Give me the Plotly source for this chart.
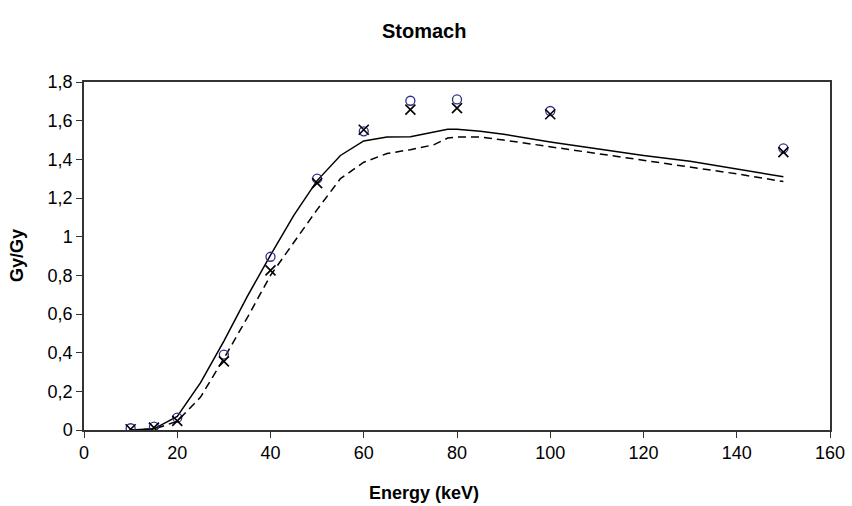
import plotly.graph_objects as go

# Measured points (open circles and crosses)
energy_pts = [10, 15, 20, 30, 40, 50, 60, 70, 80, 100, 150]
circle_vals = [0.009, 0.017, 0.064, 0.39, 0.896, 1.30, 1.545, 1.703, 1.71, 1.65, 1.457]
cross_vals = [0.004, 0.012, 0.047, 0.355, 0.826, 1.277, 1.553, 1.657, 1.665, 1.633, 1.437]

# Calculated curves
energy_line = [10, 15, 20, 25, 30, 35, 40, 45, 50, 55, 60, 65, 70, 75, 78, 80, 85, 90, 100, 110, 120, 130, 140, 150]
solid_vals = [0.0, 0.006, 0.07, 0.245, 0.46, 0.69, 0.905, 1.11, 1.29, 1.42, 1.495, 1.515, 1.517, 1.54, 1.555, 1.555, 1.545, 1.53, 1.49, 1.455, 1.42, 1.39, 1.35, 1.31]
dashed_vals = [0.0, 0.005, 0.045, 0.17, 0.37, 0.58, 0.80, 0.97, 1.14, 1.30, 1.385, 1.43, 1.45, 1.475, 1.51, 1.515, 1.515, 1.50, 1.465, 1.43, 1.395, 1.36, 1.325, 1.285]

x_ticks = [0, 20, 40, 60, 80, 100, 120, 140, 160]
y_ticks = [0, 0.2, 0.4, 0.6, 0.8, 1.0, 1.2, 1.4, 1.6, 1.8]
y_ticktext = ["0", "0,2", "0,4", "0,6", "0,8", "1", "1,2", "1,4", "1,6", "1,8"]

FONT = "Arial, Liberation Sans, sans-serif"

W, H = 852, 506
L, R, T, B = 84, 22, 82, 76
pw, ph = W - L - R, H - T - B

fig = go.Figure()
fig.add_trace(go.Scatter(x=energy_line, y=solid_vals, mode="lines",
                         line=dict(color="black", width=1.5), showlegend=False))
fig.add_trace(go.Scatter(x=energy_line, y=dashed_vals, mode="lines",
                         line=dict(color="black", width=1.5, dash="8px,5px"), showlegend=False))
fig.add_trace(go.Scatter(x=energy_pts, y=circle_vals, mode="markers",
                         marker=dict(symbol="circle-open", size=9, color="#2e2e8f",
                                     line=dict(width=1.3, color="#2e2e8f")),
                         showlegend=False))
fig.add_trace(go.Scatter(x=energy_pts, y=cross_vals, mode="markers",
                         marker=dict(symbol="x-thin-open", size=10, color="black",
                                     line=dict(width=1.6, color="black")),
                         showlegend=False))

fig.update_layout(
    width=W, height=H,
    margin=dict(l=L, r=R, t=T, b=B),
    paper_bgcolor="white", plot_bgcolor="white",
    font=dict(family=FONT, size=18, color="black"),
    showlegend=False,
    annotations=[
        dict(text="<b>Stomach</b>", x=(424 - L) / pw, y=1 + (T - 31) / ph,
             xref="paper", yref="paper", showarrow=False,
             font=dict(size=20, family=FONT), xanchor="center", yanchor="middle"),
        dict(text="<b>Energy (keV)</b>", x=(424 - L) / pw, y=-(493 - (H - B)) / ph,
             xref="paper", yref="paper", showarrow=False,
             font=dict(size=18, family=FONT), xanchor="center", yanchor="middle"),
        dict(text="<b>Gy/Gy</b>", x=-(L - 17) / pw, y=0.5, xref="paper", yref="paper",
             textangle=-90, showarrow=False,
             font=dict(size=18, family=FONT), xanchor="center", yanchor="middle"),
    ],
)

fig.update_xaxes(range=[0, 160], tickvals=x_ticks, ticktext=[str(v) for v in x_ticks],
                 showgrid=False, zeroline=False, showline=True, linecolor="#333333", linewidth=1.5,
                 mirror=True, ticks="outside", ticklen=6, tickcolor="#333333", tickwidth=1,
                 tickfont=dict(size=18, family=FONT), automargin=False)
fig.update_yaxes(range=[0, 1.8], tickvals=y_ticks, ticktext=y_ticktext,
                 showgrid=False, zeroline=False, showline=True, linecolor="#333333", linewidth=1.5,
                 mirror=True, ticks="outside", ticklen=6, tickcolor="#333333", tickwidth=1,
                 tickfont=dict(size=18, family=FONT), automargin=False)

fig.write_html("out.html", config={"displayModeBar": False},
               post_script="document.body.style.margin='0';")
